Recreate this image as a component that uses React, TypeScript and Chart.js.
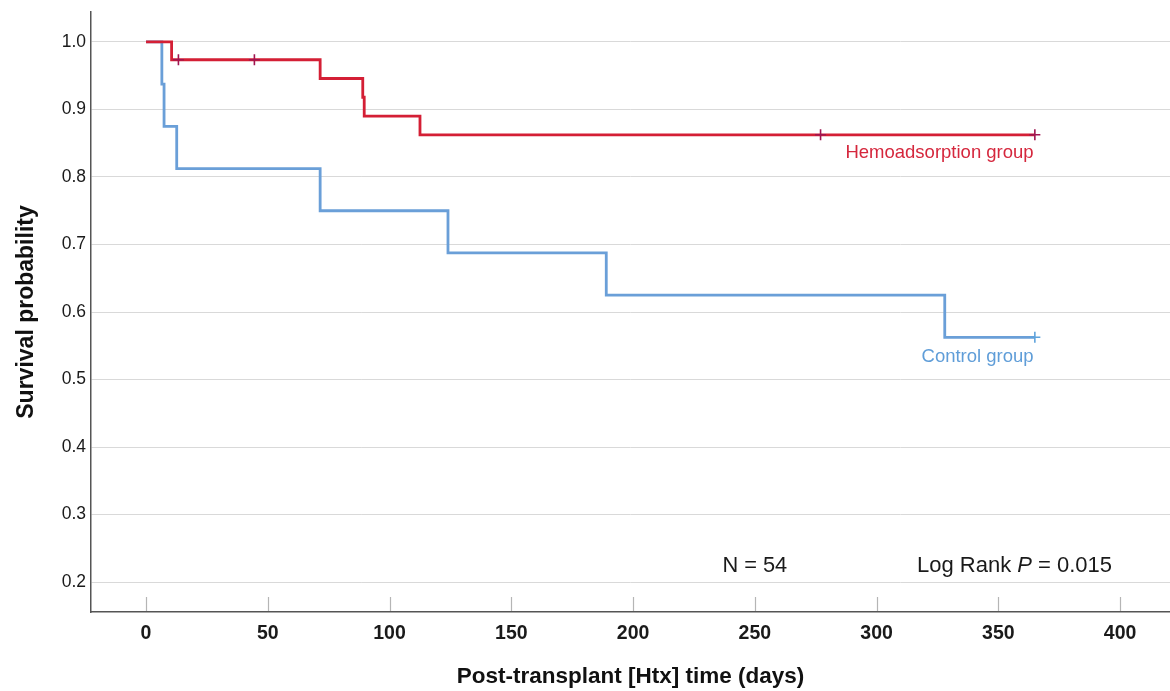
import React, { useEffect, useRef } from "react";
import { Chart, registerables } from "chart.js";

Chart.register(...registerables);

// ---- Data (Kaplan–Meier estimates) ----
const controlTimes = [0, 6.5, 7.4, 12.6, 71.5, 124, 189, 328, 365];
const controlSurvival = [1, 0.9375, 0.875, 0.8125, 0.75, 0.6875, 0.625, 0.5625, 0.5625];
const hemoTimes = [0, 10.5, 71.5, 89, 89.6, 112.5, 365];
const hemoSurvival = [1, 0.9737, 0.9459, 0.9181, 0.8903, 0.8625, 0.8625];
const hemoCensorTimes = [13.3, 44.5, 277, 365];
const hemoCensorSurvival = [0.9737, 0.9737, 0.8625, 0.8625];
const controlCensorTimes = [365];
const controlCensorSurvival = [0.5625];
const xTickValues = [0, 50, 100, 150, 200, 250, 300, 350, 400];
const yTickValues = [0.2, 0.3, 0.4, 0.5, 0.6, 0.7, 0.8, 0.9, 1.0];
const seriesNames = ["Hemoadsorption group", "Control group"];
const nText = "N = 54";
const pValueText = "0.015";

// ---- Styling ----
const FONT = "'Liberation Sans', Arial, Helvetica, sans-serif";
const RED = "#d41f35";
const RED_TEXT = "#d5273d";
const RED_CENSOR = "#a01450";
const BLUE = "#6a9fd8";
const BLUE_TEXT = "#5f9dd8";
const BLUE_CENSOR = "#5fa3dc";

const toPoints = (xs: number[], ys: number[]) => xs.map((x, i) => ({ x, y: ys[i] }));

const zeroPadding = (scale: any) => {
  scale.paddingTop = 0;
  scale.paddingBottom = 0;
  scale.paddingLeft = 0;
  scale.paddingRight = 0;
};

const innerTicksPlugin = {
  id: "innerTicks",
  beforeDatasetsDraw(chart: any) {
    const { ctx, chartArea, scales } = chart;
    const xs = scales.x;
    ctx.save();
    ctx.strokeStyle = "#b5b5b5";
    ctx.lineWidth = 1.2;
    xs.ticks.forEach((t: any) => {
      const px = Math.round(xs.getPixelForValue(t.value)) + 0.5;
      ctx.beginPath();
      ctx.moveTo(px, chartArea.bottom - 15);
      ctx.lineTo(px, chartArea.bottom - 1);
      ctx.stroke();
    });
    ctx.restore();
  },
};

const annotationPlugin = {
  id: "annotations",
  afterDraw(chart: any) {
    const { ctx, scales } = chart;
    const xs = scales.x;
    const ys = scales.y;
    ctx.save();
    ctx.textBaseline = "alphabetic";

    // group labels (right-aligned at the end of follow-up)
    ctx.font = `18.5px ${FONT}`;
    ctx.textAlign = "right";
    ctx.fillStyle = RED_TEXT;
    ctx.fillText(seriesNames[0], xs.getPixelForValue(364.5), ys.getPixelForValue(0.8283));
    ctx.fillStyle = BLUE_TEXT;
    ctx.fillText(seriesNames[1], xs.getPixelForValue(364.5), ys.getPixelForValue(0.5263));

    // N and log-rank text
    ctx.fillStyle = "#1a1a1a";
    ctx.font = `21.8px ${FONT}`;
    ctx.textAlign = "center";
    const baseY = ys.getPixelForValue(0.2154);
    ctx.fillText(nText, xs.getPixelForValue(250), baseY);

    ctx.textAlign = "left";
    const parts = [
      { t: "Log Rank ", f: `22px ${FONT}` },
      { t: "P", f: `italic 22px ${FONT}` },
      { t: " = " + pValueText, f: `22px ${FONT}` },
    ];
    let px = xs.getPixelForValue(316.6);
    parts.forEach((p) => {
      ctx.font = p.f;
      ctx.fillText(p.t, px, baseY);
      px += ctx.measureText(p.t).width;
    });
    ctx.restore();
  },
};

export default function App() {
  const canvasRef = useRef<HTMLCanvasElement | null>(null);

  useEffect(() => {
    const canvas = canvasRef.current;
    if (!canvas) return;
    const chart = new Chart(canvas, {
      type: "line",
      data: {
        datasets: [
          {
            label: "Hemoadsorption censored",
            data: toPoints(hemoCensorTimes, hemoCensorSurvival),
            showLine: false,
            pointStyle: "cross",
            pointRadius: 5.5,
            pointBorderWidth: 1.6,
            borderColor: RED_CENSOR,
            backgroundColor: RED_CENSOR,
            order: 0,
          },
          {
            label: "Control censored",
            data: toPoints(controlCensorTimes, controlCensorSurvival),
            showLine: false,
            pointStyle: "cross",
            pointRadius: 5.5,
            pointBorderWidth: 1.6,
            borderColor: BLUE_CENSOR,
            backgroundColor: BLUE_CENSOR,
            order: 0,
          },
          {
            label: seriesNames[0],
            data: toPoints(hemoTimes, hemoSurvival),
            stepped: "before",
            borderColor: RED,
            borderWidth: 2.8,
            pointRadius: 0,
            fill: false,
            borderJoinStyle: "miter",
            borderCapStyle: "butt",
            order: 1,
          },
          {
            label: seriesNames[1],
            data: toPoints(controlTimes, controlSurvival),
            stepped: "before",
            borderColor: BLUE,
            borderWidth: 2.8,
            pointRadius: 0,
            fill: false,
            borderJoinStyle: "miter",
            borderCapStyle: "butt",
            order: 2,
          },
        ] as any,
      },
      options: {
        animation: false,
        responsive: false,
        devicePixelRatio: 1,
        layout: { autoPadding: false, padding: { top: 12, right: 0, bottom: 0, left: 0 } },
        plugins: {
          legend: { display: false },
          tooltip: { enabled: false },
          title: { display: false },
        },
        scales: {
          x: {
            type: "linear",
            min: -22.6,
            max: 420.5,
            afterBuildTicks: (scale: any) => {
              scale.ticks = xTickValues.map((v) => ({ value: v }));
            },
            afterFit: (scale: any) => {
              scale.height = 79;
              zeroPadding(scale);
            },
            grid: { display: true, drawOnChartArea: false, drawTicks: false },
            border: { display: true, color: "#555555", width: 1.5 },
            ticks: {
              padding: 10,
              color: "#1a1a1a",
              font: { family: FONT, size: 19.5, weight: "bold" },
              callback: (v: any) => String(v),
            },
            title: {
              display: true,
              text: "Post-transplant [Htx] time (days)",
              color: "#111111",
              font: { family: FONT, size: 22.5, weight: "bold" },
              padding: { top: 0, bottom: 1 },
            },
          },
          y: {
            type: "linear",
            min: 0.1556,
            max: 1.0444,
            afterBuildTicks: (scale: any) => {
              scale.ticks = yTickValues.map((v) => ({ value: v }));
            },
            afterFit: (scale: any) => {
              scale.width = 91;
              zeroPadding(scale);
            },
            grid: { color: "#d9d9d9", lineWidth: 1, drawTicks: false },
            border: { display: true, color: "#555555", width: 1.5 },
            ticks: {
              padding: 5,
              color: "#1a1a1a",
              font: { family: FONT, size: 17.5 },
              callback: (v: any) => Number(v).toFixed(1),
            },
            title: {
              display: true,
              text: "Survival probability",
              color: "#111111",
              font: { family: FONT, size: 23, weight: "bold" },
              padding: { top: 12.5, bottom: 0 },
            },
          },
        },
      } as any,
      plugins: [innerTicksPlugin, annotationPlugin],
    });
    return () => chart.destroy();
  }, []);

  return (
    <div
      style={{
        position: "fixed",
        left: 0,
        top: 0,
        width: 1170,
        height: 691,
        background: "#ffffff",
      }}
    >
      <canvas ref={canvasRef} width={1170} height={691} style={{ display: "block" }} />
    </div>
  );
}
